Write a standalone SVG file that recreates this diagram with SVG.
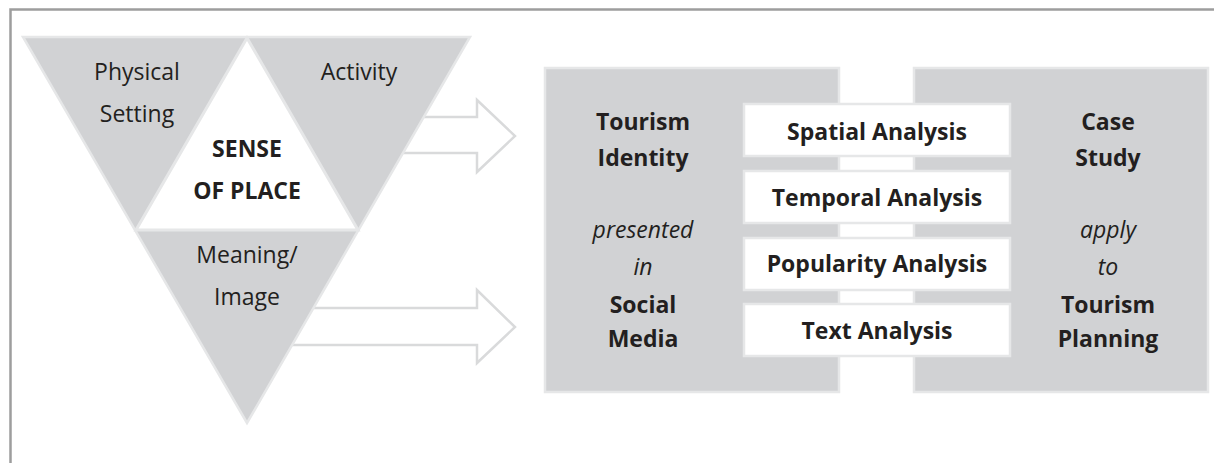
<svg xmlns="http://www.w3.org/2000/svg" width="1214" height="463" viewBox="0 0 1214 463">
<style>
.t{font-family:"Open Sans","Liberation Sans",sans-serif;font-size:23px;fill:#231f20;text-anchor:middle}
.b{font-weight:bold}
.i{font-style:italic}
.g{fill:#d1d2d4;stroke:#e6e7e8;stroke-width:2.5}
.w{fill:#ffffff;stroke:#e6e7e8;stroke-width:2.5}
.arr{fill:#ffffff;stroke:#d9dadb;stroke-width:2.5;stroke-linejoin:miter}
</style>
<rect x="0" y="0" width="1214" height="463" fill="#ffffff"/>
<path d="M10.5,463 V9.5 H1214" fill="none" stroke="#9d9d9d" stroke-width="2.5"/>
<g id="connectors">
<polygon class="arr" points="380,117 477,117 477,100 515,136 477,172 477,153 380,153"/>
<polygon class="arr" points="280,308 477,308 477,290 515,327 477,363 477,345 280,345"/>
</g>
<g id="sense-of-place">
<polygon class="g" points="23,37 470,37 247,423"/>
<polygon fill="#ffffff" stroke="#e6e7e8" stroke-width="3" points="247,38 136,230 358,230"/>
<text class="t" x="137" y="80">Physical</text>
<text class="t" x="137" y="122">Setting</text>
<text class="t" x="359" y="80">Activity</text>
<text class="t b" x="247" y="157">SENSE</text>
<text class="t b" x="247" y="199">OF PLACE</text>
<text class="t" x="247" y="263">Meaning/</text>
<text class="t" x="247" y="305">Image</text>
</g>
<g id="tourism-identity">
<rect class="g" x="545" y="68" width="294" height="324"/>
<text class="t b" x="643" y="130">Tourism</text>
<text class="t b" x="643" y="166">Identity</text>
<text class="t i" x="643" y="238">presented</text>
<text class="t i" x="643" y="275">in</text>
<text class="t b" x="643" y="313">Social</text>
<text class="t b" x="643" y="347">Media</text>
</g>
<g id="case-study">
<rect class="g" x="914" y="68" width="294" height="324"/>
<text class="t b" x="1108" y="130">Case</text>
<text class="t b" x="1108" y="166">Study</text>
<text class="t i" x="1108" y="238">apply</text>
<text class="t i" x="1108" y="275">to</text>
<text class="t b" x="1108" y="313">Tourism</text>
<text class="t b" x="1108" y="347">Planning</text>
</g>
<g id="spatial-analysis">
<rect class="w" x="744" y="104" width="266" height="52"/>
<text class="t b" x="877" y="140">Spatial Analysis</text>
</g>
<g id="temporal-analysis">
<rect class="w" x="744" y="171" width="266" height="52"/>
<text class="t b" x="877" y="206">Temporal Analysis</text>
</g>
<g id="popularity-analysis">
<rect class="w" x="744" y="238" width="266" height="52"/>
<text class="t b" x="877" y="272">Popularity Analysis</text>
</g>
<g id="text-analysis">
<rect class="w" x="744" y="304" width="266" height="52"/>
<text class="t b" x="877" y="339">Text Analysis</text>
</g>
</svg>
